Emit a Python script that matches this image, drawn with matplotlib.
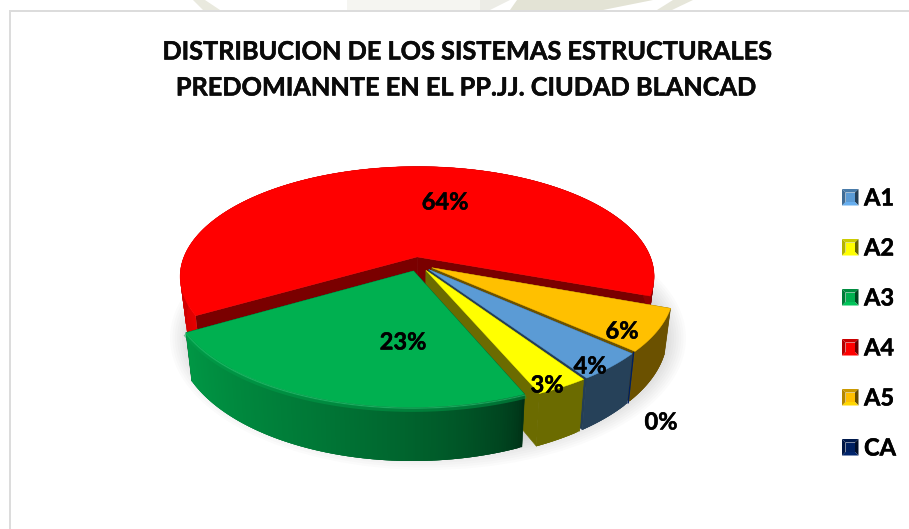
import numpy as np, matplotlib.pyplot as plt
from matplotlib.patches import Polygon, Ellipse
from matplotlib.colors import to_rgb
import matplotlib.patheffects as pe

labels = ["A1", "A2", "A3", "A4", "A5", "CA"]
values = [4, 3, 23, 64, 6, 0]
colors = ["#5B9BD5", "#FFFF00", "#00B050", "#FF0000", "#FFC000", "#002060"]
title = ["DISTRIBUCION DE LOS SISTEMAS ESTRUCTURALES",
         "PREDOMIANNTE EN EL PP.JJ. CIUDAD BLANCAD"]

plt.rcParams["font.family"] = ["Lato", "DejaVu Sans"]
plt.rcParams["font.weight"] = "bold"

fig = plt.figure(figsize=(9.09, 5.29), dpi=100)
ax = fig.add_axes([0, 0, 1, 1])
ax.set_xlim(0, 909); ax.set_ylim(529, 0); ax.axis("off")

# pie projection, pixels
CX, CY, A, B, PERSP, DEPTH = 418.5, 264, 236, 109, 0.18, 43.5
EXPL = 0.066
START = 131.8      # A1 starts here, degrees clockwise from 12 o'clock
HEAVY = [pe.withStroke(linewidth=0.35, foreground="k")]  # Lato bold is lighter than the reference

def proj(u, v, low=False):
    w = 1 + PERSP * v
    x = CX + A * u / w
    y = CY - B * v / w
    if low:
        x = CX + (x - CX) * 0.975
        y = y + DEPTH / w
    return x, y

def mix(c, f):
    return tuple(min(1, i * f) for i in to_rgb(c))

# side brightness at (first, last) rim angle of each slice
side_shade = {"A1": (0.42, 0.42), "A2": (0.42, 0.42), "A3": (0.27, 0.86),
              "A4": (0.92, 0.55), "A5": (0.42, 0.42), "CA": (1, 1)}
wall_shade = {"A1": 0.4, "A2": 0.42, "A3": 0.3, "A4": 0.48, "A5": 0.42, "CA": 1}

def draw_slice(i, t0, t1):
    name, c = labels[i], colors[i]
    mid = np.radians((t0 + t1) / 2)
    ox, oy = EXPL * np.sin(mid), EXPL * np.cos(mid)
    th = np.radians(np.linspace(t0, t1, max(3, int(t1 - t0) * 2)))
    u, v = ox + np.sin(th), oy + np.cos(th)
    tx, ty = proj(u, v)
    lx, ly = proj(u, v, True)
    ax0, ay0 = proj(ox, oy)
    bx0, by0 = proj(ox, oy, True)
    if values[i] == 0:
        ax.plot([tx[0], lx[0]], [ty[0], ly[0]], color=c, lw=1.1, zorder=10 + i)
        return
    wall = mix(c, wall_shade[name])
    # the two radial walls
    for k in (0, -1):
        ax.add_patch(Polygon([(ax0, ay0), (tx[k], ty[k]), (lx[k], ly[k]), (bx0, by0)],
                             fc=wall, ec=wall, lw=0.4))
    # outer wall as strips, each one lapping the next so no seams show
    f0, f1 = side_shade[name]
    fs = f0 + (f1 - f0) * np.linspace(0, 1, len(th)) ** 0.55
    for k in range(len(th) - 1):
        j = min(k + 3, len(th) - 1)
        ax.add_patch(Polygon([(tx[k], ty[k]), (tx[j], ty[j]), (lx[j], ly[j]), (lx[k], ly[k])],
                             fc=mix(c, fs[k]), ec="none"))
    ax.add_patch(Polygon(np.r_[[[ax0, ay0]], np.c_[tx, ty]], fc=c, ec=c, lw=0.3))
    if name == "A3":
        ax.plot(tx, ty + 1, color="#2cc976", lw=0.9, alpha=0.7)
        ax.plot(tx, ty + 3, color="#00a04a", lw=2.4, alpha=0.5)

# soft shadow under the pie
for k in range(14):
    ax.add_patch(Ellipse((428, 338), 2 * (258 - 2.4 * k), 2 * (132 - 2.4 * k),
                         fc="#000000", ec="none", alpha=0.014))

# work out the angle range of each slice, clockwise from A1
ends = START + np.cumsum(values) / sum(values) * 360
starts = np.r_[START, ends[:-1]]

# painter's order: back to front
for i in [3, 4, 5, 0, 1, 2]:
    draw_slice(i, starts[i], ends[i])

# data labels
pct_xy = [(590, 366), (547, 385), (403, 342), (445, 202), (622, 331), (661, 422)]
for v, (x, y) in zip(values, pct_xy):
    ax.text(x, y, f"{v}%", fontsize=17, ha="center", va="center", color="k", zorder=30,
            path_effects=HEAVY)

# title
ax.text(466.5, 52, title[0], fontsize=18.2, ha="center", va="center", color="#0a0a0a", path_effects=HEAVY)
ax.text(465.5, 88, title[1], fontsize=18.2, ha="center", va="center", color="#0a0a0a", path_effects=HEAVY)

# legend with bevelled keys
for n, (lab, c) in enumerate(zip(labels, colors)):
    y0 = 189 + 50 * n
    x0, s, d = 842, 16.5, 3.5
    o = [(x0, y0), (x0 + s, y0), (x0 + s, y0 + s), (x0, y0 + s)]
    q = [(x0 + d, y0 + d), (x0 + s - d, y0 + d), (x0 + s - d, y0 + s - d), (x0 + d, y0 + s - d)]
    for e, f in zip(range(4), [0.8, 0.4, 1.12, 0.7]):
        ax.add_patch(Polygon([o[e], o[(e+1) % 4], q[(e+1) % 4], q[e]],
                             fc=mix(c, f), ec="none"))
    ax.add_patch(Polygon(q, fc=c, ec="none"))
    ax.text(864, y0 + 9, lab, fontsize=17, ha="left", va="center", color="k", path_effects=HEAVY)

# chart frame: only the top and left edge show in the crop
ax.plot([10, 10, 909], [529, 11, 11], color="#dcdcdc", lw=1.44, solid_joinstyle="miter")
# faint watermark above the frame
for p, col in [([(193, 0), (205, 0), (220, 10), (203, 10)], "#e9e9de"),
               ([(347, 0), (480, 0), (480, 10), (347, 10)], "#f5f5f1"),
               ([(480, 0), (510, 0), (490, 10), (480, 10)], "#ecece6"),
               ([(517, 0), (653, 0), (603, 10), (510, 10)], "#e3e3d5"),
               ([(673, 0), (693, 0), (672, 10), (657, 10)], "#e6e6da")]:
    ax.add_patch(Polygon(p, fc=col, ec="none"))

fig.savefig("out.png", dpi=100, facecolor="white")
